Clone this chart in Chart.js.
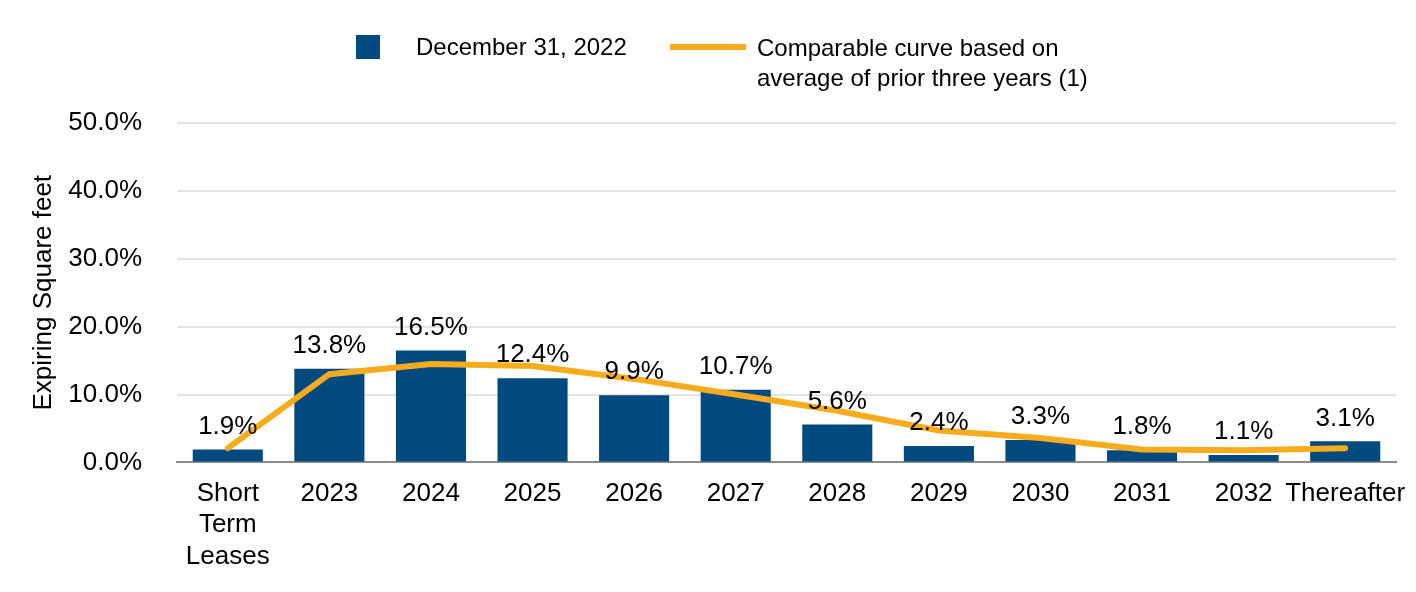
<!DOCTYPE html>
<html>
<head>
<meta charset="utf-8">
<script src="https://cdn.jsdelivr.net/npm/chart.js@4.4.0/dist/chart.umd.min.js"></script>
<style>
  html, body { margin:0; padding:0; background:#fff; }
  #wrap { position:relative; width:1416px; height:592px; font-family:"Liberation Sans", Arial, sans-serif; }
  canvas { position:absolute; left:0; top:0; }
  .lg { position:absolute; color:#000; font-size:24px; line-height:30px; white-space:nowrap; }
</style>
</head>
<body>
<div id="wrap">
  <canvas id="c" width="1416" height="592"></canvas>
  <div style="position:absolute;left:356px;top:35px;width:24px;height:24px;background:#004A7F;"></div>
  <div class="lg" style="left:416px;top:32px;">December 31, 2022</div>
  <div style="position:absolute;left:670px;top:44px;width:76px;height:6px;background:#F7AC1E;"></div>
  <div class="lg" style="left:757px;top:33px;">Comparable curve based on<br>average of prior three years (1)</div>
</div>
<script>
const categories = [["Short","Term","Leases"],"2023","2024","2025","2026","2027","2028","2029","2030","2031","2032","Thereafter"];
const expiringDec2022 = [1.9,13.8,16.5,12.4,9.9,10.7,5.6,2.4,3.3,1.8,1.1,3.1];
const comparableCurve = [2.1,13.0,14.5,14.2,12.3,10.0,7.6,4.7,3.6,1.9,1.8,2.1];
const yTicks = [0,10,20,30,40,50];

const FONT = "'Liberation Sans', Arial, sans-serif";

const barLabels = {
  id: 'barLabels',
  afterDatasetsDraw(chart) {
    const ctx = chart.ctx;
    const meta = chart.getDatasetMeta(1);
    ctx.save();
    ctx.font = "26px " + FONT;
    ctx.fillStyle = "#000";
    ctx.textAlign = "center";
    ctx.textBaseline = "bottom";
    meta.data.forEach((el, i) => {
      ctx.fillText(expiringDec2022[i].toFixed(1) + "%", el.x, el.y - 10);
    });
    ctx.restore();
  }
};

new Chart(document.getElementById('c'), {
  data: {
    labels: categories,
    datasets: [
      {
        type: 'line',
        label: 'Comparable curve based on average of prior three years (1)',
        data: comparableCurve,
        borderColor: '#F7AC1E',
        backgroundColor: '#F7AC1E',
        borderWidth: 6,
        pointRadius: 0,
        tension: 0,
        borderCapStyle: 'round',
        order: 0
      },
      {
        type: 'bar',
        label: 'December 31, 2022',
        data: expiringDec2022,
        backgroundColor: '#004A7F',
        barPercentage: 0.69,
        categoryPercentage: 1.0,
        order: 1
      }
    ]
  },
  options: {
    responsive: false,
    animation: false,
    layout: { padding: { top: 123, left: 28, right: 20, bottom: 4 } },
    plugins: { legend: { display: false }, tooltip: { enabled: false } },
    scales: {
      x: {
        grid: { display: false, drawTicks: false },
        border: { display: true, color: '#8c8c8c', width: 2 },
        ticks: { color: '#000', font: { family: FONT, size: 26 }, padding: 16, maxRotation: 0, autoSkip: false },
        afterFit(axis) { axis.paddingLeft = 0; axis.paddingRight = 0; }
      },
      y: {
        min: 0, max: 50,
        afterBuildTicks(axis) { axis.ticks = yTicks.map(v => ({ value: v })); },
        afterFit(axis) { axis.width = 149; },
        grid: { color: '#e3e3e3', lineWidth: 2, drawTicks: false },
        border: { display: false },
        ticks: { color: '#000', font: { family: FONT, size: 26 }, padding: 35, callback: v => Number(v).toFixed(1) + '%' },
        title: { display: true, text: 'Expiring Square feet', color: '#000', font: { family: FONT, size: 26 }, padding: { top: 0, bottom: 8 } }
      }
    }
  },
  plugins: [barLabels]
});
</script>
</body>
</html>
